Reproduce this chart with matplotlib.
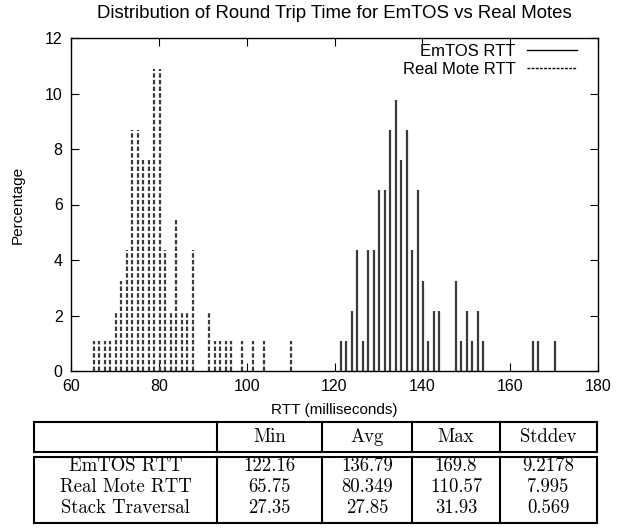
import matplotlib
matplotlib.use("Agg")
import matplotlib.pyplot as plt
from matplotlib.lines import Line2D

plt.rcParams["font.family"] = ["Liberation Sans", "DejaVu Sans"]

# histogram of round trip times (percent of samples per bin)
emtos_rtt = [121.4, 122.6, 123.9, 125.2, 126.4, 127.7, 128.9, 130.1, 131.4, 132.6,
             133.9, 135.1, 136.4, 137.6, 138.9, 140.1, 141.4, 142.6, 143.9, 147.6,
             148.9, 150.1, 151.4, 152.6, 153.8, 165.1, 166.3, 170.1]
emtos_pct = [1.09, 1.09, 2.17, 4.35, 1.09, 4.35, 4.35, 6.52, 6.52, 8.70,
             9.78, 7.61, 8.70, 4.35, 6.52, 3.26, 1.09, 2.17, 2.17, 3.26,
             1.09, 2.17, 1.09, 2.17, 1.09, 1.09, 1.09, 1.09]

mote_rtt = [65.2, 66.4, 67.7, 68.9, 70.2, 71.4, 72.7, 73.9, 75.2, 76.4,
            77.7, 78.9, 80.2, 81.4, 82.7, 83.9, 85.2, 86.4, 87.7, 91.4,
            92.7, 93.9, 95.2, 96.4, 98.9, 101.4, 103.9, 110.2]
mote_pct = [1.09, 1.09, 1.09, 1.09, 2.17, 3.26, 4.35, 8.70, 8.70, 7.61,
            7.61, 10.87, 10.87, 4.35, 2.17, 5.43, 2.17, 2.17, 4.35, 2.17,
            1.09, 1.09, 1.09, 1.09, 1.09, 1.09, 1.09, 1.09]

# summary table
col_names = ["", "Min", "Avg", "Max", "Stddev"]
row_names = ["EmTOS RTT", "Real Mote RTT", "Stack Traversal"]
table_vals = [["122.16", "136.79", "169.8", "9.2178"],
              ["65.75", "80.349", "110.57", "7.995"],
              ["27.35", "27.85", "31.93", "0.569"]]

W, H = 624, 531
fig = plt.figure(figsize=(W / 100, H / 100), dpi=100)
ax = fig.add_axes([71 / W, 1 - 371 / H, (598 - 71) / W, (371 - 38) / H])

ax.vlines(emtos_rtt, 0, emtos_pct, colors="#3a3a3a", linewidth=1.6)
ax.vlines(mote_rtt, 0, mote_pct, colors="#3a3a3a", linewidth=1.6,
          linestyles=(0, (2, 1)))

ax.set_xlim(60, 180)
ax.set_ylim(0, 12)
ax.set_xticks(range(60, 181, 20))
ax.set_yticks(range(0, 13, 2))
ax.tick_params(direction="in", length=6, top=True, right=True, labelsize=11.5,
               pad=6)
for s in ax.spines.values():
    s.set_linewidth(1.0)

fig.text(334 / W, 1 - 14 / H, "Distribution of Round Trip Time for EmTOS vs Real Motes",
         ha="center", va="center", fontsize=13.4)
fig.text(334 / W, 1 - 410 / H, "RTT (milliseconds)", ha="center", va="center",
         fontsize=11)
fig.text(18 / W, 1 - 205 / H, "Percentage", ha="center", va="center",
         rotation=90, fontsize=11)

handles = [Line2D([], [], color="k", lw=1),
           Line2D([], [], color="k", lw=1, linestyle=(0, (2, 1)))]
ax.legend(handles, ["EmTOS RTT", "Real Mote RTT"], loc="upper right",
          bbox_to_anchor=(577 / W, 1 - 44 / H), bbox_transform=fig.transFigure,
          markerfirst=False, frameon=False, fontsize=12, handlelength=3.0,
          handletextpad=0.7, labelspacing=0.15, borderpad=0, borderaxespad=0)

# table drawn in figure pixels
col_x = [34, 217, 322, 412, 500, 597]
head_top, head_bot = 422, 452
body_top, body_bot = 457, 523
row_y = [466, 487, 508]


def hline(y, x0, x1):
    fig.add_artist(Line2D([x0 / W, x1 / W], [1 - y / H, 1 - y / H], color="k", lw=1.5))


def vline(x, y0, y1):
    fig.add_artist(Line2D([x / W, x / W], [1 - y0 / H, 1 - y1 / H], color="k", lw=1.5))


for y in [head_top, head_bot, body_top, body_bot]:
    hline(y, col_x[0], col_x[-1])
for x in col_x:
    vline(x, head_top, head_bot)
    vline(x, body_top, body_bot)

tfont = dict(family="cmr10", fontsize=13.5, ha="center", va="center")
for i, name in enumerate(col_names):
    cx = (col_x[i] + col_x[i + 1]) / 2
    fig.text(cx / W, 1 - (head_top + head_bot) / 2 / H, name, **tfont)
for r, name in enumerate(row_names):
    cx = (col_x[0] + col_x[1]) / 2
    fig.text(cx / W, 1 - row_y[r] / H, name, **tfont)
    for c, v in enumerate(table_vals[r]):
        cx = (col_x[c + 1] + col_x[c + 2]) / 2
        fig.text(cx / W, 1 - row_y[r] / H, v, **tfont)

fig.savefig("out.png", dpi=100)
